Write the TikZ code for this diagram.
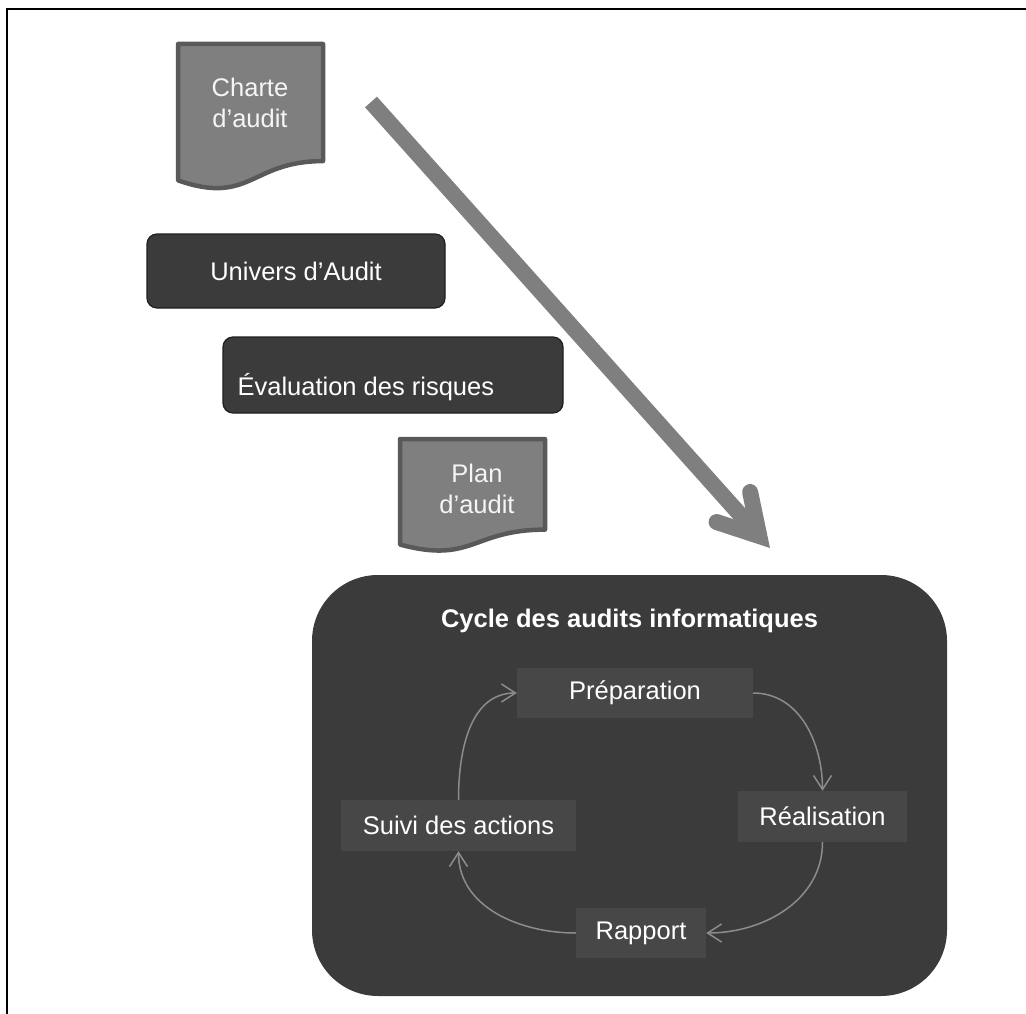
\documentclass[tikz,border=0pt]{standalone}
\usepackage{fontspec}
\setmainfont{Liberation Sans}
\usetikzlibrary{positioning,calc,arrows.meta}
\definecolor{docgray}{RGB}{127,127,127}
\definecolor{docedge}{RGB}{89,89,89}
\definecolor{boxdark}{RGB}{59,59,59}
\definecolor{boxedge}{RGB}{30,30,30}
\definecolor{stepfill}{RGB}{71,71,71}
\definecolor{cyclegray}{RGB}{140,140,140}
\definecolor{textwhite}{RGB}{245,245,245}

% document symbol: left, top, width, height (in pixels, y downwards)
\newcommand{\docshape}[4]{%
  \draw[docline] (#1,-#2) -- (#1+#3,-#2) -- (#1+#3,-#2-0.802*#4)
    .. controls (#1+0.5*#3,-#2-0.802*#4) and (#1+0.5*#3,-#2-1.107*#4) .. (#1,-#2-0.934*#4) -- cycle;
}

\begin{document}
\begin{tikzpicture}[
    x=1pt, y=1pt,
    docline/.style={draw=docedge, line width=4.5pt, fill=docgray, line join=round},
    doctext/.style={align=center, text=textwhite, font=\fontsize{25.5}{30.5}\selectfont},
    darkbox/.style={rectangle, rounded corners=10pt, draw=boxedge, line width=1.2pt, fill=boxdark, text=white, font=\fontsize{25.5}{30.5}\selectfont},
    boxtext/.style={text=white, inner sep=0pt, font=\fontsize{25.5}{30.5}\selectfont},
    cyclebox/.style={rectangle, rounded corners=66pt, fill=boxdark, minimum width=635pt, minimum height=421pt},
    stepbox/.style={rectangle, fill=stepfill, text=white, minimum height=50pt, font=\fontsize{25.5}{30.5}\selectfont},
    cyclearrow/.style={draw=cyclegray, line width=1.5pt, -{Straight Barb[length=14pt,width=18pt]}},
    bigarrow/.style={draw=docgray, line width=16pt},
]
    \useasboundingbox (0,0) rectangle (1026,-1014);

    % Frame
    \draw[line width=2pt] (1026,-9) -- (7,-9) -- (7,-1014);

    % Charte d'audit
    \docshape{178}{44}{145}{146}
    \node[doctext] (charte) at (250,-103) {Charte\\d’audit};

    % Univers et risques
    \node[darkbox, minimum width=298pt, minimum height=74pt] (univers) at (296,-271) {Univers d’Audit};
    \node[darkbox, minimum width=340pt, minimum height=76pt] (risques) at (393,-375) {};
    \node[boxtext, anchor=base west] (risquestext) at ([xshift=15pt, yshift=-20pt]risques.west) {Évaluation des risques};

    % Plan d'audit
    \docshape{400}{439}{145}{113}
    \node[doctext] (plan) at (477,-489) {Plan\\d’audit};

    % Big arrow
    \coordinate (bigstart) at (371,-102);
    \coordinate (bigend) at (770,-548);
    \coordinate (bigtip) at ($(bigend)!16pt!(bigstart)$);
    \draw[bigarrow] (bigstart) -- (bigtip);
    \draw[bigarrow, line cap=round, line join=miter] ($(bigtip)!45pt!30:(bigstart)$) -- (bigtip) -- ($(bigtip)!45pt!-30:(bigstart)$);

    % Cycle
    \node[cyclebox] (cycle) at (629.5,-785.5) {};
    \node[text=white, font=\bfseries\fontsize{25.5}{30.5}\selectfont, anchor=base] (cycletitle) at ([yshift=-53pt]cycle.north) {Cycle des audits informatiques};

    \node[stepbox, minimum width=236pt] (prep) at (635,-693) {Préparation};
    \node[stepbox, minimum width=169pt, minimum height=51pt] (real) at (822.5,-816.5) {Réalisation};
    \node[stepbox, minimum width=130pt] (rapport) at (641,-933) {Rapport};
    \node[stepbox, minimum width=235pt, minimum height=51pt] (suivi) at (458.5,-825.5) {Suivi des actions};

    % Arrows
    \draw[cyclearrow] (prep.east) to[out=0, in=90] (real.north);
    \draw[cyclearrow] (real.south) to[out=-90, in=0] (rapport.east);
    \draw[cyclearrow] (rapport.west) to[out=180, in=-90] (suivi.south);
    \draw[cyclearrow] (suivi.north) to[out=90, in=180] (prep.west);
\end{tikzpicture}
\end{document}
